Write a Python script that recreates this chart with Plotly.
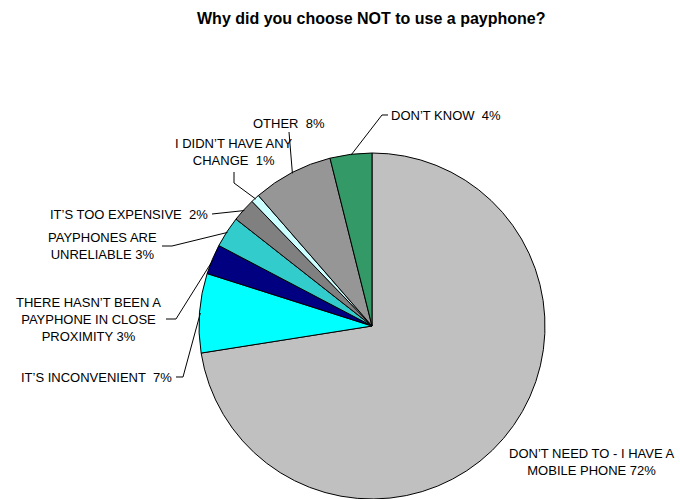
import math
import plotly.graph_objects as go

W, H = 680, 499

# ---- data ----
categories = [
    "DON'T NEED TO - I HAVE A MOBILE PHONE",
    "IT'S INCONVENIENT",
    "THERE HASN'T BEEN A PAYPHONE IN CLOSE PROXIMITY",
    "PAYPHONES ARE UNRELIABLE",
    "IT'S TOO EXPENSIVE",
    "I DIDN'T HAVE ANY CHANGE",
    "OTHER",
    "DON'T KNOW",
]
values = [72.5, 7.4, 2.8, 2.9, 2.2, 0.8, 7.5, 3.9]
label_texts = [
    "DON\u2019T NEED TO - I HAVE A<br>MOBILE PHONE 72%",
    "IT\u2019S INCONVENIENT  7%",
    "THERE HASN\u2019T BEEN A<br>PAYPHONE IN CLOSE<br>PROXIMITY 3%",
    "PAYPHONES ARE<br>UNRELIABLE 3%",
    "IT\u2019S TOO EXPENSIVE  2%",
    "I DIDN\u2019T HAVE ANY<br>CHANGE  1%",
    "OTHER  8%",
    "DON\u2019T KNOW  4%",
]
colors = ["#C0C0C0", "#00FFFF", "#000080", "#33CCCC", "#808080", "#CCFFFF", "#969696", "#339966"]

# ---- layout of labels (pixel positions) ----
# (x, y, xanchor, align)
label_pos = [
    (592, 462, "center", "center"),
    (174, 377, "right", "right"),
    (88, 319, "center", "center"),
    (103, 246, "center", "center"),
    (210, 214, "right", "right"),
    (234, 152, "center", "center"),
    (289, 123, "center", "center"),
    (389, 115, "left", "left"),
]
# leader line: list of pixel points from label side to elbow (edge point appended)
leader = [
    None,
    [(176, 377), (183, 377)],
    [(166, 319), (176, 319)],
    [(162, 246), (172, 246)],
    [(212, 214)],
    [(234, 172), (234, 183)],
    [(289, 132)],
    [(388, 115), (382, 115)],
]

dom_x = [199 / W, 545 / W]
dom_y = [0, 346 / H]

fig = go.Figure(go.Pie(
    labels=categories, values=values, sort=False, direction="clockwise", rotation=0,
    marker=dict(colors=colors, line=dict(color="black", width=1)),
    textinfo="none", hoverinfo="label+percent", showlegend=False,
    domain=dict(x=dom_x, y=dom_y),
))

cx = (dom_x[0] + dom_x[1]) / 2 * W
cy = (1 - (dom_y[0] + dom_y[1]) / 2) * H
R = min((dom_x[1] - dom_x[0]) * W, (dom_y[1] - dom_y[0]) * H) / 2

def pp(x, y):
    return x / W, 1 - y / H

total = sum(values)
cum = 0.0
shapes = []
annotations = []
font = dict(family="Arial, Liberation Sans, sans-serif", size=13, color="black")
for i, v in enumerate(values):
    mid = (cum + v / 2) / total * 2 * math.pi
    cum += v
    ex = cx + R * 0.995 * math.sin(mid)
    ey = cy - R * 0.995 * math.cos(mid)
    x, y, xa, al = label_pos[i]
    px, py = pp(x, y)
    annotations.append(dict(x=px, y=py, xref="paper", yref="paper", text=label_texts[i],
                            showarrow=False, xanchor=xa, yanchor="middle", align=al, font=font))
    if leader[i]:
        pts = leader[i] + [(ex, ey)]
        path = "M " + " L ".join(f"{pp(a, b)[0]:.5f},{pp(a, b)[1]:.5f}" for a, b in pts)
        shapes.append(dict(type="path", path=path, xref="paper", yref="paper",
                           line=dict(color="black", width=1)))

annotations.append(dict(x=371 / W, y=1 - 18 / H, xref="paper", yref="paper",
                        text="<b>Why did you choose NOT to use a payphone?</b>", showarrow=False,
                        xanchor="center", yanchor="middle",
                        font=dict(family="Arial, Liberation Sans, sans-serif", size=16, color="black")))

fig.update_layout(width=W, height=H, margin=dict(l=0, r=0, t=0, b=0),
                  paper_bgcolor="white", plot_bgcolor="white",
                  shapes=shapes, annotations=annotations)

fig.write_html("out.html")
